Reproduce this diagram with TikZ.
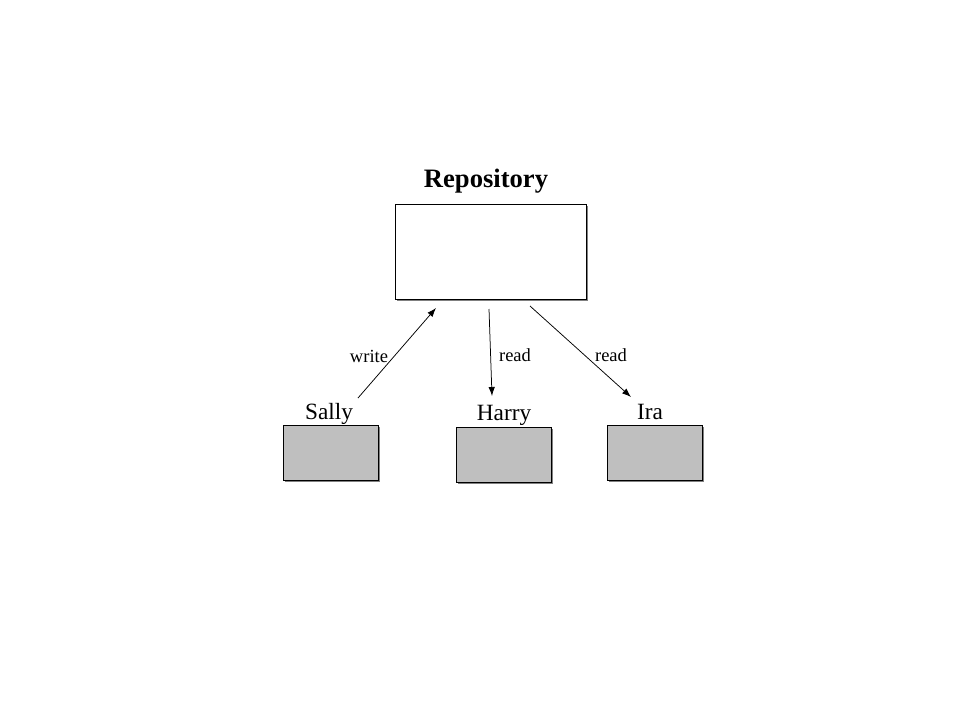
\documentclass[tikz,border=0pt]{standalone}
\usepackage{fontspec}
\setmainfont{Liberation Serif}
\usetikzlibrary{arrows.meta,shadows}

\begin{document}
\begin{tikzpicture}[x=1pt,y=-1pt,
    box/.style={draw,line width=1pt,inner sep=0pt,minimum width=95pt,minimum height=55pt,
        fill=gray!50,drop shadow={shadow xshift=1.5pt,shadow yshift=-1.5pt,fill=gray,opacity=1}},
    who/.style={anchor=base,inner sep=0pt,font=\fontsize{23.3}{26}\selectfont},
    lbl/.style={anchor=base,inner sep=0pt,font=\fontsize{18.5}{21}\selectfont},
    arr/.style={-{Latex[length=9pt,width=6.5pt]},line width=0.75pt}]
        \useasboundingbox (0,0) rectangle (960,720);
        % repository
        \node[anchor=base,inner sep=0pt,font=\bfseries\fontsize{26.6}{30}\selectfont] (repolbl) at (486,187) {Repository};
        \node[box,fill=white,minimum width=191pt,minimum height=95pt] (repo) at (490.5,251.5) {};
        % working copies
        \node[box] (sally) at (330.5,452.5) {};
        \node[box] (harry) at (503.5,454.5) {};
        \node[box] (ira) at (654.5,452.5) {};
        \node[who] (sallylbl) at (329,419) {Sally};
        \node[who] (harrylbl) at (504,420) {Harry};
        \node[who] (iralbl) at (650,419) {Ira};
        % arrow ends
        \coordinate (s1) at (358,398);
        \coordinate (s2) at (436,308);
        \coordinate (h1) at (489,309);
        \coordinate (h2) at (492,396);
        \coordinate (i1) at (530,306);
        \coordinate (i2) at (631,397);
        \draw[arr] (s1) -- (s2);
        \draw[arr] (h1) -- (h2);
        \draw[arr] (i1) -- (i2);
        \node[lbl] (wlbl) at (369,362) {write};
        \node[lbl] (rlbl1) at (515,361) {read};
        \node[lbl] (rlbl2) at (611,361) {read};
\end{tikzpicture}
\end{document}
